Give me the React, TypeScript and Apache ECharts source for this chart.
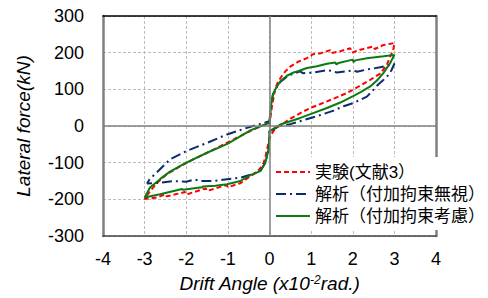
import React, { useEffect, useRef } from "react";
import * as echarts from "echarts";

// ---- axis ranges / ticks ----
const X_MIN = -4, X_MAX = 4, X_STEP = 1;
const Y_MIN = -300, Y_MAX = 300, Y_STEP = 100;

// ---- series names ----
const NAME_EXP = "実験(文献3）";
const NAME_FREE = "解析（付加拘束無視）";
const NAME_CONS = "解析（付加拘束考慮）";

// ---- experiment (red dashed) ----
const expX = [0, 0.03, 0.06, 0.1, 0.14, 0.2, 0.3, 0.38, 0.5, 0.7, 0.9, 1.0, 1.04, 1.22, 1.46, 1.49, 1.7, 1.94, 1.98, 2.18, 2.5, 2.53, 2.74, 3.0,
  2.97, 2.9, 2.82, 2.66, 2.42, 2.1, 1.86, 1.38, 1.0, 0.82, 0.5, 0.38, 0.26, 0.12, 0.03,
  -0.02, -0.06, -0.1, -0.14, -0.22, -0.3, -0.46, -0.7, -1.0, -1.03, -1.5, -1.53, -2.0, -2.03, -2.47, -2.5, -2.7, -3.0,
  -2.95, -2.87, -2.71, -2.47, -2.15, -1.83, -1.5, -1.18, -0.87, -0.54, -0.22, 0];
const expF = [0, 30, 54, 80, 102, 120, 137, 149, 162, 176, 185, 192, 196, 198, 207, 199, 204, 212, 200, 208, 217, 210, 221, 226,
  205, 190, 167, 143, 126, 105, 90, 67, 50, 40, 20, 11, 2, -10, -25,
  -45, -64, -85, -100, -115, -125, -137, -156, -167, -161, -177, -170, -187, -180, -192, -186, -195, -199,
  -190, -178, -156, -132, -110, -91, -73, -55, -37, -18, -1, 9];

// ---- analysis, no additional constraint (navy dash-dot) ----
const freeX = [0, 0.03, 0.08, 0.14, 0.26, 0.42, 0.58, 0.74, 0.8, 1.06, 1.38, 1.5, 1.62, 2.02, 2.1, 2.34, 2.66, 3.0,
  2.93, 2.85, 2.74, 2.62, 2.34, 2.02, 1.78, 1.54, 1.14, 0.5, 0.26, 0,
  -0.01, -0.02, -0.1, -0.22, -0.46, -0.7, -1.02, -1.35, -1.67, -1.8, -2.0, -2.31, -2.63, -2.94,
  -2.88, -2.71, -2.39, -1.99, -1.5, -1.02, -0.54, 0];
const freeF = [13, 50, 85, 100, 120, 135, 143, 149, 144, 146, 152, 150, 146, 152, 148, 154, 160, 170,
  152, 138, 126, 114, 80, 63, 54, 42, 27, 5, 0, -14,
  -40, -64, -100, -123, -133, -141, -145, -150, -150, -146, -152, -150, -155, -157,
  -145, -127, -91, -68, -46, -23, -5, 13];

// ---- analysis, with additional constraint (green solid) ----
const consX = [0, 0.03, 0.08, 0.14, 0.26, 0.42, 0.58, 0.7, 0.9, 1.14, 1.38, 1.58, 1.61, 1.66, 2.0, 2.02, 2.06, 2.34, 2.74, 3.0,
  2.9, 2.74, 2.58, 2.42, 2.2, 2.02, 1.7, 1.38, 1.0, 0.74, 0.26, 0,
  -0.01, -0.02, -0.1, -0.22, -0.46, -0.7, -1.02, -1.3, -1.6, -1.63, -1.67, -2.07, -2.1, -2.63, -3.0,
  -2.87, -2.63, -2.4, -2.0, -1.5, -1.0, -0.46, 0];
const consF = [9, 50, 85, 100, 122, 137, 146, 150, 158, 163, 170, 173, 168, 172, 181, 174, 179, 185, 190, 194,
  172, 145, 124, 108, 93, 82, 64, 49, 33, 22, 4, -14,
  -40, -64, -100, -123, -134, -150, -159, -163, -165, -168, -168, -174, -172, -186, -195,
  -168, -145, -125, -100, -73, -48, -12, 9];

const zip = (xs: number[], ys: number[]) => xs.map((x, i) => [x, ys[i]]);

const FONT = "'Liberation Sans', Arial, 'Noto Sans CJK JP', sans-serif";

// plot rectangle
const G_LEFT = 103, G_TOP = 16, G_W = 333, G_H = 221;

export default function App() {
  const ref = useRef<HTMLDivElement>(null);
  useEffect(() => {
    if (!ref.current) return;
    const chart = echarts.init(ref.current, undefined, { renderer: "svg" });
    const gridDash = { color: "#bdbdbd", type: [3, 2] as any, width: 1 };
    chart.setOption({
      animation: false,
      backgroundColor: "#fff",
      textStyle: { fontFamily: FONT },
      grid: { left: G_LEFT, top: G_TOP, width: G_W, height: G_H, containLabel: false },
      legend: {
        orient: "vertical",
        left: 269,
        top: 157,
        backgroundColor: "#fff",
        padding: [6, 0, 5, 6],
        itemWidth: 34,
        itemHeight: 14,
        itemGap: 4,
        selectedMode: false,
        itemStyle: { opacity: 0 },
        textStyle: { fontSize: 17, color: "#000", fontFamily: FONT, lineHeight: 18 },
        data: [NAME_EXP, NAME_FREE, NAME_CONS],
      },
      xAxis: [
        {
          type: "value", min: X_MIN, max: X_MAX, interval: X_STEP, position: "bottom",
          axisLine: { onZero: false, lineStyle: { color: "#404040", width: 1.5 } },
          axisTick: { show: false },
          axisLabel: { fontSize: 18, color: "#000", margin: 14, fontFamily: FONT },
          splitLine: { show: true, lineStyle: gridDash },
          name: "Drift Angle (x10{sup|-2}rad.)",
          nameLocation: "middle",
          nameGap: 38,
          nameTextStyle: {
            fontSize: 19, fontStyle: "italic", color: "#000", fontFamily: FONT,
            rich: { sup: { fontSize: 12, fontStyle: "italic", color: "#000", verticalAlign: "top", fontFamily: FONT } },
          },
        },
        {
          type: "value", min: X_MIN, max: X_MAX, interval: X_STEP, position: "top",
          axisLine: { onZero: false, lineStyle: { color: "#000", width: 1.5 } },
          axisTick: { show: false }, axisLabel: { show: false }, splitLine: { show: false },
        },
      ],
      yAxis: [
        {
          type: "value", min: Y_MIN, max: Y_MAX, interval: Y_STEP, position: "left",
          axisLine: { onZero: false, lineStyle: { color: "#808080", width: 2.5 } },
          axisTick: { show: false },
          axisLabel: { fontSize: 18, color: "#000", margin: 19, fontFamily: FONT },
          splitLine: { show: true, lineStyle: gridDash },
          name: "Lateral force(kN)",
          nameLocation: "middle",
          nameGap: 70,
          nameTextStyle: { fontSize: 19, fontStyle: "italic", color: "#000", fontFamily: FONT },
        },
        {
          type: "value", min: Y_MIN, max: Y_MAX, interval: Y_STEP, position: "right",
          axisLine: { onZero: false, lineStyle: { color: "#808080", width: 2.5 } },
          axisTick: { show: false }, axisLabel: { show: false }, splitLine: { show: false },
        },
      ],
      series: [
        {
          type: "line", name: "zero", data: [], z: 1, silent: true,
          markLine: {
            silent: true, symbol: ["none", "none"], label: { show: false },
            lineStyle: { color: "#808080", width: 1.5, type: "solid" },
            data: [{ xAxis: 0 }, { yAxis: 0 }],
          },
        },
        {
          type: "line", name: NAME_EXP, data: zip(expX, expF), symbol: "none", z: 3,
          lineStyle: { color: "#ff0000", width: 2, type: [5, 3] },
          itemStyle: { color: "#ff0000" },
        },
        {
          type: "line", name: NAME_FREE, data: zip(freeX, freeF), symbol: "none", z: 3,
          lineStyle: { color: "#0d2a6b", width: 2, type: [10, 4, 2, 4] },
          itemStyle: { color: "#0d2a6b" },
        },
        {
          type: "line", name: NAME_CONS, data: zip(consX, consF), symbol: "none", z: 3,
          lineStyle: { color: "#0b7a12", width: 2, type: "solid" },
          itemStyle: { color: "#0b7a12" },
        },
      ],
    });
    return () => chart.dispose();
  }, []);
  return (
    <div
      ref={ref}
      style={{ position: "fixed", left: 0, top: 0, width: 488, height: 298, background: "#fff" }}
    />
  );
}
